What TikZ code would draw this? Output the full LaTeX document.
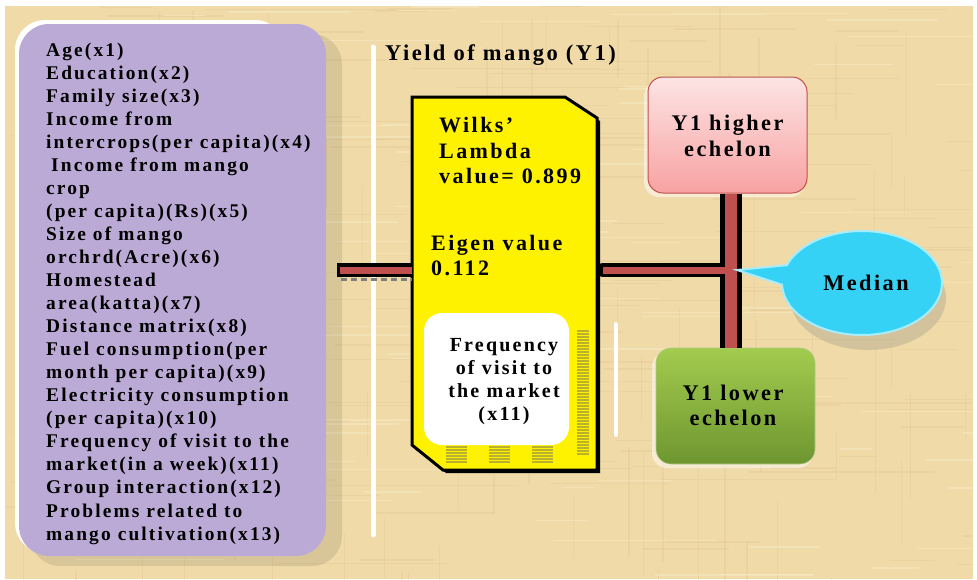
\documentclass[tikz,border=0pt]{standalone}
\usepackage{fontspec}
\setmainfont{Liberation Serif}[LetterSpace=11]
\usetikzlibrary{shapes.geometric,shapes.callouts,calc}

\definecolor{paper}{HTML}{EFDAA8}
\definecolor{paperdark}{HTML}{E0C48E}
\definecolor{paperlight}{HTML}{F8E8C2}
\definecolor{lavender}{HTML}{BCAAD6}
\definecolor{barred}{HTML}{C0504D}
\definecolor{pinktop}{HTML}{FDE4E4}
\definecolor{pinkbot}{HTML}{F8A2A2}
\definecolor{greentop}{HTML}{A2CC4E}
\definecolor{greenbot}{HTML}{6E9630}
\definecolor{cyanfill}{HTML}{36D2F5}
\definecolor{cyanedge}{HTML}{A6ECFB}
\definecolor{olive}{HTML}{9C9640}

\tikzset{
  listtxt/.style={font=\bfseries\fontsize{19.4}{23}\selectfont, inner sep=0pt, anchor=base west},
  bigtxt/.style={font=\bfseries\fontsize{22}{25}\selectfont, inner sep=0pt, anchor=base west},
  ctrtxt/.style={font=\bfseries\fontsize{22.3}{25}\selectfont, inner sep=0pt, anchor=base},
  smalltxt/.style={font=\bfseries\fontsize{20}{23}\selectfont, inner sep=0pt, anchor=base},
  barouter/.style={draw=black, line width=#1},
  barinner/.style={draw=barred, line width=#1},
  groupbox/.style={rectangle, rounded corners=15pt, inner sep=0pt},
  texline/.style={line width=1.4pt, opacity=.3},
  stripe/.style={draw=olive, line width=1.2pt, opacity=.7},
}

\begin{document}
\begin{tikzpicture}[x=1pt,y=-1pt]
\useasboundingbox (0,0) rectangle (977,579);

% paper background with a light fibre texture
\fill[white] (0,0) rectangle (977,579);
\fill[paper] (5,6) rectangle (973,579);
\begin{scope}
  \clip (5,6) rectangle (973,579);
  \pgfmathsetseed{11}
  \foreach \k in {1,...,140}{
    \pgfmathsetmacro\xa{5+rnd*968}
    \pgfmathsetmacro\ya{6+rnd*573}
    \pgfmathsetmacro\ln{30+rnd*160}
    \draw[texline, draw=paperdark] (\xa,\ya) -- ++(\ln,0);
  }
  \foreach \k in {1,...,90}{
    \pgfmathsetmacro\xa{5+rnd*968}
    \pgfmathsetmacro\ya{6+rnd*573}
    \pgfmathsetmacro\ln{30+rnd*140}
    \draw[texline, draw=paperdark] (\xa,\ya) -- ++(0,\ln);
  }
  \foreach \k in {1,...,100}{
    \pgfmathsetmacro\xa{5+rnd*968}
    \pgfmathsetmacro\ya{6+rnd*573}
    \pgfmathsetmacro\ln{30+rnd*160}
    \draw[texline, draw=paperlight, opacity=.6] (\xa,\ya) -- ++(\ln,0);
  }
\end{scope}

% list of explanatory variables
\fill[black, opacity=.09, rounded corners=30pt] (30,34) rectangle (342,566);
\fill[white, rounded corners=30pt] (15,20) rectangle (285,553);
\node[rectangle, rounded corners=30pt, fill=lavender, minimum width=307pt, minimum height=532pt, inner sep=0pt]
  (factors) at (172.5,290) {};
\foreach \t [count=\i] in {Age(x1), Education(x2), Family size(x3), Income from,
  intercrops(per capita)(x4), \hspace{5pt}Income from mango, crop,
  (per capita)(Rs)(x5), Size of mango, orchrd(Acre)(x6), Homestead,
  area(katta)(x7), Distance matrix(x8), Fuel consumption(per,
  month per capita)(x9), Electricity consumption, (per capita)(x10),
  Frequency of visit to the, market(in a week)(x11), Group interaction(x12),
  Problems related to, mango cultivation(x13)}{
  \node[listtxt] (item\i) at (46,{56+23.05*(\i-1)}) {\t};
}

% white brackets
\draw[white, line width=5pt, line cap=round] (373,47) -- (373,535);
\draw[white, line width=4pt, line cap=round] (616,324) -- (616,435);

% title
\node[bigtxt, font=\bfseries\fontsize{22.5}{25}\selectfont] (title) at (385,60) {Yield of mango (Y1)};

% discriminant box
\fill[black] (415,100) -- (568,100) -- (600,121) -- (600,473) -- (446,473) -- (415,448) -- cycle;
\filldraw[fill=yellow, draw=black, line width=3pt]
  (412,97) -- (565,97) -- (597,118) -- (597,470) -- (443,470) -- (412,445) -- cycle;
\coordinate (ywest) at (412,270);
\coordinate (yeast) at (597,270);
% striped shadow of the inner card
\foreach \ys in {331,334,...,454}{
  \draw[stripe] (577,\ys) -- (589,\ys);
}
\foreach \xs in {446,489,532}{
  \foreach \ys in {447,450,...,464}{
    \draw[stripe] (\xs,\ys) -- ++(21,0);
  }
}
\node[rectangle, rounded corners=18pt, fill=white, minimum width=145pt, minimum height=132pt, inner sep=0pt]
  (card) at (496.5,379) {};

\node[bigtxt] (wilks) at (439,132) {Wilks’};
\node[bigtxt] (lambda) at (439,158) {Lambda};
\node[bigtxt] (wval) at (439,183) {value= 0.899};
\node[bigtxt] (eigen) at (431,250) {Eigen value};
\node[bigtxt] (eval) at (431,275) {0.112};

\node[smalltxt] (f1) at (504,351) {Frequency};
\node[smalltxt] (f2) at (504,374) {of visit to};
\node[smalltxt] (f3) at (504,397) {the market};
\node[smalltxt] (f4) at (504,420) {(x11)};

% echelon boxes
\fill[white, opacity=.5, rounded corners=15pt] (644,81) rectangle (805,197);
\node[groupbox, top color=pinktop, bottom color=pinkbot, draw=barred, line width=1pt,
  minimum width=159pt, minimum height=116pt] (hi) at (727.5,135) {};
\node[ctrtxt] (hi1) at (727.5,130) {Y1 higher};
\node[ctrtxt] (hi2) at (727.5,156) {echelon};

\fill[white, opacity=.5, rounded corners=15pt] (652,352) rectangle (813,468);
\node[groupbox, top color=greentop, bottom color=greenbot, draw=greentop!80!black!60, line width=.6pt,
  minimum width=159pt, minimum height=116pt] (lo) at (735.5,406) {};
\node[ctrtxt] (lo1) at (733,400) {Y1 lower};
\node[ctrtxt] (lo2) at (733,425) {echelon};

% connectors
\coordinate (junction) at (731,270);
\coordinate (lstart) at (337,270);
\draw[gray, line width=3pt, dash pattern=on 6pt off 4pt] (341,279) -- (ywest |- 0,279);
\draw[barouter=14pt] (lstart) -- (ywest);
\draw[barouter=14pt, line cap=round] (yeast) ++(6,0) -- (junction);
\draw[barouter=22pt] (hi.south -| junction) -- (lo.north -| junction);
\draw[barinner=7pt] (lstart) ++(3,0) -- (ywest);
\draw[barinner=7pt] (yeast) ++(6,0) -- (junction);
\draw[barinner=12pt] (hi.south -| junction) -- (lo.north -| junction);

% median callout
\fill[gray, opacity=.25] (868,298) ellipse (78pt and 52pt);
\node[ellipse callout, callout absolute pointer={(737,270)}, callout pointer arc=22,
  fill=cyanfill, draw=cyanedge, line width=2pt, minimum width=160pt, minimum height=104pt, inner sep=0pt]
  (median) at (862,283) {};
\node[ctrtxt] (medtxt) at (866,290) {Median};

\end{tikzpicture}
\end{document}
